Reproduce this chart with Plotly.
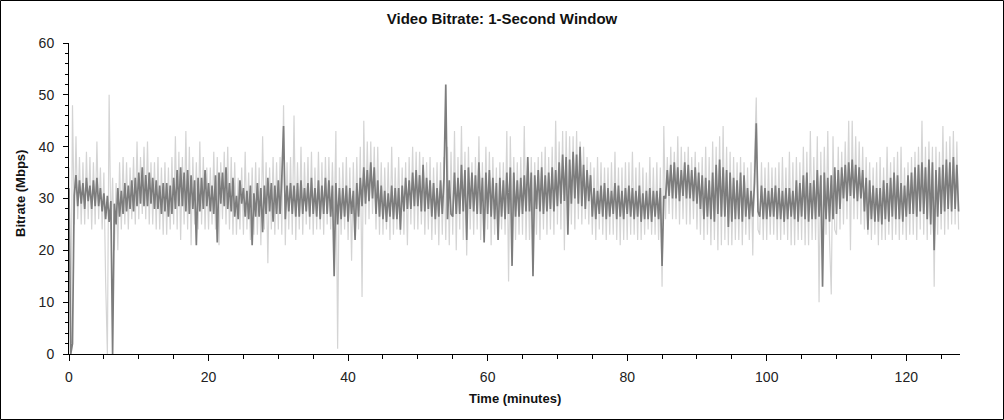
import plotly.graph_objects as go

# ---------------- data ----------------
title_text = "Video Bitrate: 1-Second Window"
x_title = "Time (minutes)"
y_title = "Bitrate (Mbps)"
x_tick_vals = [0, 20, 40, 60, 80, 100, 120]
y_tick_vals = [0, 10, 20, 30, 40, 50, 60]
x_max_min = 127.7
step_min = 0.25  # sample spacing of the values below (minutes)

# dark series: 4 samples per minute (minute 0 .. 127)
dark_by_minute = [
    [32.0, 0.0, 2.0, 30.5], [34.5, 28.5, 33.5, 29.0], [33.0, 28.0, 34.0, 29.5], [32.5, 28.0, 33.5, 28.5],
    [34.0, 28.5, 32.0, 27.5], [31.0, 26.0, 30.5, 25.5], [29.5, 0.0, 29.0, 25.0], [32.0, 26.5, 31.5, 27.0],
    [33.0, 27.5, 32.5, 28.0], [33.5, 27.5, 34.0, 28.5], [35.0, 29.0, 36.0, 28.5], [34.5, 28.5, 35.0, 29.0],
    [34.0, 28.0, 33.5, 28.0], [32.5, 27.0, 33.0, 27.5], [33.0, 26.5, 32.5, 27.0], [34.0, 28.0, 35.5, 28.5],
    [36.0, 28.5, 35.0, 27.5], [35.5, 27.0, 34.5, 28.0], [33.5, 21.0, 34.0, 27.5], [34.0, 28.0, 35.5, 28.5],
    [33.0, 27.5, 32.5, 27.0], [34.5, 21.5, 35.0, 29.0], [35.0, 28.5, 36.0, 28.0], [33.0, 27.5, 34.0, 26.5],
    [30.5, 26.0, 33.5, 29.0], [32.0, 26.5, 31.5, 26.0], [32.5, 21.0, 31.0, 26.5], [33.0, 26.5, 32.0, 23.5],
    [32.5, 27.0, 34.0, 27.5], [33.0, 25.5, 32.5, 27.0], [33.5, 27.0, 34.0, 44.0], [26.0, 32.5, 27.5, 33.0],
    [27.0, 32.5, 26.5, 33.0], [26.5, 33.5, 27.0, 32.0], [27.5, 33.0, 26.5, 34.0], [27.0, 32.0, 26.5, 33.5],
    [26.0, 32.5, 27.0, 34.0], [27.0, 33.5, 26.5, 32.5], [15.0, 33.0, 25.0, 32.0], [26.0, 32.0, 26.5, 32.5],
    [25.5, 32.0, 27.0, 31.5], [22.0, 33.0, 26.5, 34.0], [28.5, 36.0, 29.0, 35.5], [29.5, 37.0, 30.0, 36.0],
    [27.0, 33.5, 26.5, 32.5], [26.0, 31.5, 25.5, 31.0], [26.5, 32.5, 26.0, 32.0], [26.0, 32.0, 24.0, 32.5],
    [27.5, 34.0, 28.0, 33.5], [28.0, 35.0, 28.5, 35.5], [28.5, 34.5, 27.5, 36.5], [27.5, 34.0, 28.0, 33.5],
    [26.5, 33.0, 26.0, 32.0], [26.5, 33.5, 27.0, 34.0], [52.0, 26.0, 33.5, 27.0], [26.5, 35.0, 27.0, 34.0],
    [27.0, 36.5, 27.5, 35.5], [22.0, 36.0, 28.0, 35.0], [27.5, 34.5, 27.0, 37.0], [27.0, 34.0, 21.5, 35.0],
    [27.0, 35.5, 26.5, 34.0], [26.0, 33.0, 22.0, 34.0], [26.5, 33.5, 26.0, 35.0], [27.0, 36.0, 17.0, 35.0],
    [26.5, 33.5, 26.5, 34.0], [27.0, 34.5, 27.5, 38.0], [27.5, 35.0, 15.0, 34.5], [28.0, 35.5, 27.5, 36.0],
    [27.0, 34.5, 27.5, 35.0], [28.0, 36.0, 27.5, 35.5], [28.5, 37.0, 29.0, 38.5], [29.5, 38.0, 23.0, 37.5],
    [29.0, 39.0, 30.0, 38.5], [29.0, 40.0, 28.5, 36.5], [28.0, 35.5, 29.5, 34.5], [26.5, 32.0, 26.0, 31.5],
    [27.0, 32.5, 26.5, 33.0], [26.0, 32.0, 26.5, 31.5], [27.0, 33.0, 26.0, 32.5], [26.5, 31.5, 26.0, 32.0],
    [27.0, 32.5, 26.5, 32.0], [26.0, 31.5, 26.5, 32.5], [25.5, 31.0, 26.0, 31.5], [26.0, 32.0, 25.5, 31.5],
    [26.5, 31.5, 26.0, 32.0], [17.0, 30.5, 30.0, 35.5], [30.5, 36.5, 30.0, 37.0], [30.0, 36.0, 29.5, 35.5],
    [30.5, 37.0, 30.0, 36.5], [30.0, 35.5, 29.5, 36.0], [29.0, 35.0, 28.0, 34.5], [26.0, 34.0, 26.5, 33.5],
    [26.0, 35.0, 25.5, 36.5], [27.0, 37.5, 26.5, 36.0], [26.5, 35.5, 24.5, 35.0], [25.5, 34.0, 26.0, 33.5],
    [26.0, 35.0, 25.5, 34.5], [26.5, 32.0, 26.0, 31.5], [26.5, 33.0, 44.5, 27.5], [26.5, 32.5, 26.0, 32.0],
    [26.0, 31.5, 26.5, 32.0], [26.5, 32.5, 26.0, 32.0], [26.0, 31.5, 25.5, 32.0], [26.0, 32.0, 26.5, 31.5],
    [26.0, 33.5, 25.5, 33.0], [26.5, 34.5, 26.0, 35.0], [25.5, 33.0, 26.0, 33.5], [26.0, 35.5, 26.5, 34.5],
    [13.0, 35.0, 26.0, 34.0], [25.5, 34.5, 26.0, 36.0], [27.0, 35.5, 28.0, 36.0], [30.0, 36.5, 29.5, 37.0],
    [30.5, 37.5, 30.0, 36.5], [29.5, 36.0, 30.0, 35.5], [27.5, 34.0, 24.0, 33.5], [26.0, 32.5, 25.5, 32.0],
    [25.5, 32.0, 25.0, 33.5], [26.0, 33.0, 25.5, 34.0], [26.5, 35.0, 26.0, 34.5], [26.0, 33.0, 25.5, 32.5],
    [26.5, 34.5, 27.0, 35.0], [27.0, 36.0, 26.5, 36.5], [27.5, 37.0, 27.0, 36.0], [26.0, 37.5, 25.0, 37.0],
    [20.0, 35.5, 26.5, 36.0], [27.0, 36.5, 27.5, 37.5], [28.0, 37.0, 27.5, 38.0], [28.0, 36.5, 27.5],
]

# light series (wider envelope, drawn behind): 4 samples per minute
light_by_minute = [
    [36, 0, 48, 25], [42, 26, 38, 25], [37, 25, 39, 26], [38, 24, 37, 25],
    [41, 26, 36, 24], [35, 14, 0, 50], [24, 34, 20, 33], [20, 37, 24, 38],
    [25, 37, 24, 36], [26, 38, 25, 41], [26, 38, 27, 40], [26, 41, 25, 37],
    [25, 37, 24, 38], [24, 36, 23, 37], [23, 36, 24, 38], [25, 42, 24, 39],
    [22, 38, 25, 43], [24, 40, 21, 38], [25, 37, 24, 41], [25, 38, 24, 36],
    [24, 36, 25, 39], [24, 38, 21, 37], [26, 39, 25, 40], [24, 38, 23, 37],
    [23, 34, 24, 36], [23, 39, 24, 35], [22, 36, 23, 37], [23, 36, 21, 42],
    [24, 37, 17.5, 36], [24, 38, 23, 37], [24, 38, 23, 48], [21, 37, 24, 38],
    [23, 46, 22, 37], [24, 40, 23, 37], [25, 38, 24, 39], [23, 36, 24, 39],
    [24, 37, 23, 38], [25, 38, 24, 37], [24, 43, 1, 36], [23, 37, 24, 38],
    [22, 36, 18, 37], [23, 38, 24, 40], [11, 45, 25, 41], [26, 41, 27, 40],
    [24, 40, 23, 37], [23, 36, 24, 37], [22, 40, 23, 36], [24, 38, 23, 36],
    [23, 37, 21, 38], [25, 40, 24, 39], [24, 39, 25, 38], [23, 37, 24, 38],
    [22, 36, 23, 37], [21, 37, 23, 38], [22, 40, 21, 39], [23, 43, 20, 38],
    [24, 44, 22, 39], [19, 40, 24, 37], [23, 38, 24, 42], [22, 37, 23, 40],
    [24, 39, 21, 38], [23, 36, 22, 37], [24, 37, 23, 43], [14, 42, 23, 38],
    [22, 37, 23, 38], [23, 44, 22, 37], [22, 38, 23, 37], [23, 38, 22, 39],
    [24, 40, 23, 38], [24, 40, 23, 45], [25, 41, 24, 43], [20, 43, 26, 42],
    [25, 42, 24, 43], [26, 41, 25, 40], [26, 38, 25, 37], [23, 36, 22, 38],
    [24, 37, 23, 36], [22, 36, 23, 37], [23, 39, 22, 36], [21, 36, 22, 37],
    [22, 37, 23, 39], [23, 36, 22, 37], [22, 36, 23, 35], [24, 38, 23, 36],
    [23, 37, 22, 36], [13, 44, 26, 38], [27, 40, 26, 39], [26, 42, 25, 40],
    [26, 39, 25, 40], [25, 38, 26, 39], [24, 37, 23, 38], [22, 40, 23, 38],
    [21, 41, 22, 40], [20, 42, 21, 44], [22, 40, 21, 39], [21, 38, 22, 37],
    [22, 38, 21, 37], [23, 36, 22, 37], [19, 38, 49.5, 24], [23, 37, 22, 36],
    [22, 37, 23, 36], [23, 36, 22, 37], [22, 38, 23, 36], [22, 39, 21, 37],
    [21, 38, 22, 37], [22, 40, 21, 39], [21, 43, 22, 38], [22, 42, 10, 39],
    [22, 40, 23, 43], [22, 11.5, 42, 24], [23, 40, 24, 39], [25, 41, 26, 45],
    [20, 45, 26, 42], [26, 41, 25, 40], [24, 38, 23, 37], [22, 36, 23, 37],
    [21, 38, 22, 36], [22, 40, 23, 37], [22, 38, 23, 39], [22, 40, 23, 36],
    [22, 37, 23, 38], [23, 39, 22, 40], [24, 45, 23, 40], [22, 41, 23, 40],
    [13, 40, 23, 39], [24, 44, 23, 41], [24, 42, 25, 43], [25, 41, 24],
]

dark_values = [v for row in dark_by_minute for v in row]
light_values = [v for row in light_by_minute for v in row]
dark_times = [i * step_min for i in range(len(dark_values))]
light_times = [i * step_min for i in range(len(light_values))]

# ---------------- figure ----------------
W, H = 1004, 420
ML, MR, MT, MB = 69, 44, 43, 66
PW, PH = W - ML - MR, H - MT - MB
FONT = "Liberation Sans, Arial, sans-serif"
DARK = "#7d7d7d"
LIGHT = "#d4d4d4"

fig = go.Figure()
fig.add_trace(go.Scatter(x=light_times, y=light_values, mode="lines",
                         line=dict(color=LIGHT, width=1.2, simplify=False),
                         hoverinfo="skip", showlegend=False))
fig.add_trace(go.Scatter(x=dark_times, y=dark_values, mode="lines",
                         line=dict(color=DARK, width=1.7, simplify=False),
                         showlegend=False))

tickfont = dict(family=FONT, size=14, color="#222222")
common_x = dict(range=[0, x_max_min], tickvals=x_tick_vals, showgrid=False, zeroline=False,
                tickcolor="black", tickwidth=1)
common_y = dict(range=[0, 60], tickvals=y_tick_vals, showgrid=False, zeroline=False,
                tickcolor="black", tickwidth=1)

fig.update_layout(
    width=W, height=H,
    margin=dict(l=ML, r=MR, t=MT, b=MB),
    paper_bgcolor="white", plot_bgcolor="white",
    font=dict(family=FONT, size=14, color="#222222"),
    title=dict(text="<b>" + title_text + "</b>", x=0.5, xref="container",
               y=1 - 19 / H, yref="container", xanchor="center", yanchor="middle",
               font=dict(family=FONT, size=15, color="#111111")),
    xaxis=dict(**common_x, ticks="outside", ticklen=6, showline=True, linecolor="black", linewidth=1,
               tickfont=tickfont, ticklabelstandoff=4,
               minor=dict(dtick=5, ticks="outside", ticklen=4, tickcolor="black", tickwidth=1)),
    xaxis2=dict(**common_x, overlaying="x", side="top", anchor="y", ticks="inside", ticklen=5,
                showticklabels=False, showline=True, linecolor="black", linewidth=1,
                minor=dict(dtick=5, ticks="inside", ticklen=3, tickcolor="black", tickwidth=1)),
    xaxis3=dict(**common_x, overlaying="x", side="bottom", anchor="y", ticks="inside", ticklen=4,
                showticklabels=False, showline=False),
    yaxis=dict(**common_y, ticks="outside", ticklen=5, showline=True, linecolor="black", linewidth=1,
               tickfont=tickfont, ticklabelstandoff=6,
               minor=dict(dtick=2, ticks="outside", ticklen=3, tickcolor="black", tickwidth=1)),
    yaxis2=dict(**common_y, overlaying="y", side="right", anchor="x", ticks="outside", ticklen=5,
                showline=True, linecolor="black", linewidth=1, tickfont=tickfont, ticklabelstandoff=5,
                minor=dict(dtick=2, ticks="outside", ticklen=3, tickcolor="black", tickwidth=1)),
    yaxis3=dict(**common_y, overlaying="y", side="left", anchor="x", ticks="inside", ticklen=5,
                showticklabels=False, showline=False,
                minor=dict(dtick=2, ticks="inside", ticklen=2, tickcolor="black", tickwidth=1)),
    yaxis4=dict(**common_y, overlaying="y", side="right", anchor="x", ticks="inside", ticklen=5,
                showticklabels=False, showline=False,
                minor=dict(dtick=2, ticks="inside", ticklen=2, tickcolor="black", tickwidth=1)),
)

# axis titles
fig.add_annotation(text="<b>" + x_title + "</b>", xref="paper", yref="paper",
                   x=0.5, y=-(398 - (MT + PH)) / PH, xanchor="center", yanchor="middle",
                   showarrow=False, font=dict(family=FONT, size=13, color="#111111"))
fig.add_annotation(text="<b>" + y_title + "</b>", xref="paper", yref="paper",
                   x=(20 - ML) / PW, y=(MT + PH - 194) / PH, xanchor="center", yanchor="middle",
                   textangle=-90, showarrow=False, font=dict(family=FONT, size=13, color="#111111"))

# outer frame around the whole image
fig.add_shape(type="rect", xref="paper", yref="paper",
              x0=(-ML + 0.5) / PW, x1=1 + (MR - 0.5) / PW,
              y0=(-MB + 0.5) / PH, y1=1 + (MT - 0.5) / PH,
              line=dict(color="black", width=1), fillcolor="rgba(0,0,0,0)", layer="above")

fig.write_html("out.html", config={"displayModeBar": False},
               post_script="document.body.style.margin='0';document.body.style.overflow='hidden';")
